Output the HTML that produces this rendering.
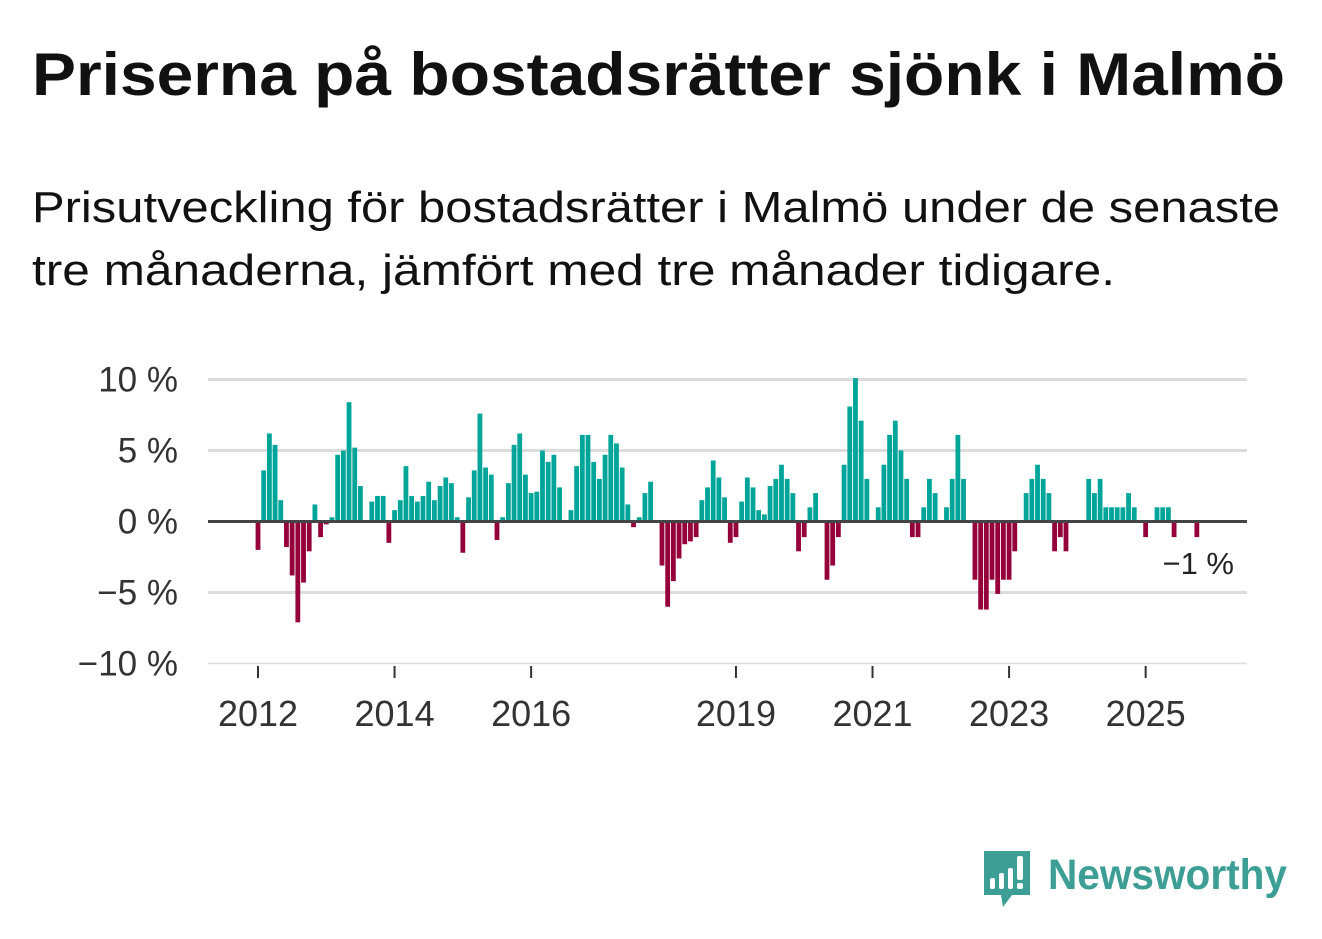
<!DOCTYPE html>
<html><head><meta charset="utf-8"><style>
html,body{margin:0;padding:0;background:#fff;}
svg{display:block;font-family:"Liberation Sans",sans-serif;}
</style></head><body>
<svg id="chart" width="1322" height="939" viewBox="0 0 1322 939" xmlns="http://www.w3.org/2000/svg">
<text x="32" y="95" font-size="60" font-weight="bold" fill="#111" textLength="1253" lengthAdjust="spacingAndGlyphs">Priserna på bostadsrätter sjönk i Malmö</text>
<text x="32" y="222" font-size="44" fill="#111" textLength="1248" lengthAdjust="spacingAndGlyphs">Prisutveckling för bostadsrätter i Malmö under de senaste</text>
<text x="32" y="285" font-size="44" fill="#111" textLength="1083" lengthAdjust="spacingAndGlyphs">tre månaderna, jämfört med tre månader tidigare.</text>
<g id="grid"></g>
<g id="bars"></g>
<g id="axes"></g>
<text x="1234" y="574" font-size="31" fill="#222" text-anchor="end">−1 %</text>
<g>
<path d="M984 851 h46 v44 h-18 l-9 12 l-2 -12 h-17 z" fill="#3d9e95"/>
<rect x="990" y="878" width="5" height="11" rx="2" fill="#fff"/>
<rect x="999" y="873" width="5" height="16" rx="2" fill="#fff"/>
<rect x="1008" y="868" width="5" height="21" rx="2" fill="#fff"/>
<rect x="1017" y="856" width="6" height="24" rx="2" fill="#fff"/>
<rect x="1017" y="883" width="6" height="6" rx="2" fill="#fff"/>
<text x="1048" y="889" font-size="43" font-weight="bold" fill="#3d9e95" textLength="239" lengthAdjust="spacingAndGlyphs">Newsworthy</text>
</g>
</svg>
<script>
const values = [-2.0,3.6,6.2,5.4,1.5,-1.8,-3.8,-7.1,-4.3,-2.1,1.2,-1.1,-0.2,0.3,4.7,5.0,8.4,5.2,2.5,0,
1.4,1.8,1.8,-1.5,0.8,1.5,3.9,1.8,1.4,1.8,2.8,1.5,2.5,3.1,2.7,0.3,-2.2,1.7,3.6,7.6,
3.8,3.3,-1.3,0.3,2.7,5.4,6.2,3.3,2.0,2.1,5.0,4.2,4.7,2.4,0,0.8,3.9,6.1,6.1,4.2,
3.0,4.7,6.1,5.5,3.8,1.2,-0.4,0.3,2.0,2.8,0,-3.1,-6.0,-4.2,-2.6,-1.6,-1.4,-1.1,1.5,2.4,
4.3,3.1,1.7,-1.5,-1.1,1.4,3.1,2.4,0.8,0.5,2.5,3.0,4.0,3.0,2.0,-2.1,-1.1,1.0,2.0,0,
-4.1,-3.1,-1.1,4.0,8.1,10.1,7.1,3.0,0,1.0,4.0,6.1,7.1,5.0,3.0,-1.1,-1.1,1.0,3.0,2.0,
0,1.0,3.0,6.1,3.0,0,-4.1,-6.2,-6.2,-4.1,-5.1,-4.1,-4.1,-2.1,0,2.0,3.0,4.0,3.0,2.0,
-2.1,-1.1,-2.1,0,0,0,3.0,2.0,3.0,1.0,1.0,1.0,1.0,2.0,1.0,0,-1.1,0,1.0,1.0,
1.0,-1.1,0,0,0,-1.1];
const yTicks = [10,5,0,-5,-10];
const yTickLabels = ["10 %","5 %","0 %","−5 %","−10 %"];
const xTickYears = [2012,2014,2016,2019,2021,2023,2025];
const startYear = 2012;
const NS="http://www.w3.org/2000/svg";
const x0=208,x1=1247;
function xScale(i){return 258+5.69*i;}
function yScale(v){return 521.5-v*14.2;}
function mk(tag,attrs,parent){const e=document.createElementNS(NS,tag);for(const k in attrs)e.setAttribute(k,attrs[k]);parent.appendChild(e);return e;}
const grid=document.getElementById('grid'),bars=document.getElementById('bars'),axes=document.getElementById('axes');
yTicks.forEach((t,k)=>{
  if(t!==0){const l=mk('line',{x1:x0,x2:x1,y1:yScale(t),y2:yScale(t),stroke:'#dcdcdc','stroke-width':t===-10?1.5:3},grid);
  
  }
  const tx=mk('text',{x:178,y:yScale(t)+12,'font-size':35,fill:'#333','text-anchor':'end'},axes);
  tx.textContent=yTickLabels[k];
  
  
});
values.forEach((v,i)=>{
  if(v===0)return;
  const y=v>0?yScale(v):yScale(0);
  const r=mk('rect',{x:xScale(i)-2.4,y:y,width:4.8,height:Math.abs(v)*14.2,fill:v>0?'#00a599':'#95003b'},bars);
  
  
});
const base=mk('line',{x1:x0,x2:x1,y1:yScale(0),y2:yScale(0),stroke:'#444','stroke-width':3},axes);


xTickYears.forEach(yr=>{
  const x=xScale((yr-startYear)*12);
  const t=mk('line',{x1:x,x2:x,y1:666,y2:678,stroke:'#333','stroke-width':2},axes);
  
  
  const tx=mk('text',{x:x,y:726,'font-size':36,fill:'#333','text-anchor':'middle'},axes);
  tx.textContent=String(yr);
  
  
});
</script>
</body></html>
